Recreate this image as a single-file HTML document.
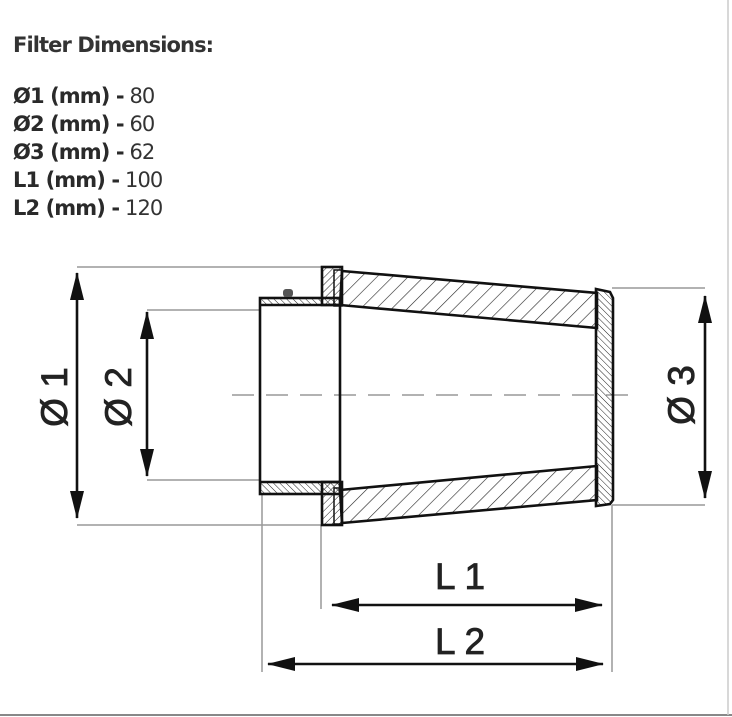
<!DOCTYPE html>
<html><head><style>
body{margin:0;background:#fff;width:732px;height:717px;overflow:hidden;position:relative;font-family:"DejaVu Sans","Liberation Sans",sans-serif;color:#333}
.t{position:absolute;left:13px;font-size:21px;line-height:28px;letter-spacing:-0.9px}
b{color:#2a2a2a}
</style></head><body>
<div class="t" style="top:31px;font-weight:bold">Filter Dimensions:</div>
<div class="t" style="top:82px"><b>Ø1 (mm) -</b> 80<br><b>Ø2 (mm) -</b> 60<br><b>Ø3 (mm) -</b> 62<br><b>L1 (mm) -</b> 100<br><b>L2 (mm) -</b> 120</div>
<svg width="732" height="717" style="position:absolute;left:0;top:0">
<defs>
<pattern id="h" width="11" height="11" patternUnits="userSpaceOnUse" patternTransform="rotate(45)"><line x1="0" y1="0" x2="0" y2="11" stroke="#222" stroke-width="1.2"/></pattern>
<pattern id="h2" width="4.5" height="4.5" patternUnits="userSpaceOnUse" patternTransform="rotate(-45)"><line x1="0" y1="0" x2="0" y2="4.5" stroke="#222" stroke-width="1"/></pattern>
<pattern id="h3" width="5" height="5" patternUnits="userSpaceOnUse" patternTransform="rotate(45)"><line x1="0" y1="0" x2="0" y2="5" stroke="#222" stroke-width="1"/></pattern>
<marker id="a" markerWidth="28" markerHeight="14" refX="27" refY="7" orient="auto-start-reverse" markerUnits="userSpaceOnUse" viewBox="0 0 28 14"><path d="M0,0 L28,7 L0,14z" fill="#111"/></marker>
</defs>
<g stroke="#999" stroke-width="1.5">
<line x1="77" y1="267" x2="322" y2="267"/><line x1="77" y1="525" x2="322" y2="525"/>
<line x1="147" y1="310" x2="260" y2="310"/><line x1="147" y1="480" x2="260" y2="480"/>
<line x1="612" y1="288" x2="705" y2="288"/><line x1="612" y1="505" x2="705" y2="505"/>
<line x1="262" y1="494" x2="262" y2="672"/><line x1="321" y1="525" x2="321" y2="609"/><line x1="612" y1="505" x2="612" y2="672"/>
<line x1="232" y1="395" x2="640" y2="395" stroke-dasharray="22,12"/>
<line x1="0" y1="715" x2="732" y2="715" stroke="#888" stroke-width="2"/>
<line x1="728" y1="0" x2="728" y2="715" stroke="#ccc"/>
</g>
<g stroke="#111" stroke-width="2.6" fill="none">
<line x1="77" y1="273" x2="77" y2="518" marker-start="url(#a)" marker-end="url(#a)"/>
<line x1="147" y1="312" x2="147" y2="476" marker-start="url(#a)" marker-end="url(#a)"/>
<line x1="705" y1="296" x2="705" y2="498" marker-start="url(#a)" marker-end="url(#a)"/>
<line x1="332" y1="605" x2="602" y2="605" marker-start="url(#a)" marker-end="url(#a)"/>
<line x1="268" y1="664" x2="603" y2="664" marker-start="url(#a)" marker-end="url(#a)"/>
<rect x="260" y="298" width="80" height="196"/>
<rect x="261" y="299" width="78" height="6" fill="url(#h2)" stroke="none"/>
<rect x="261" y="482" width="78" height="11" fill="url(#h2)" stroke="none"/>
<line x1="260" y1="305" x2="340" y2="305"/><line x1="260" y1="482" x2="340" y2="482"/>
<rect x="322" y="267" width="20" height="38" fill="url(#h3)"/>
<rect x="322" y="482" width="20" height="43" fill="url(#h3)"/>
<polygon points="342,271 597,293 597,328 340,305" fill="url(#h)"/>
<polygon points="340,490 597,466 597,500 342,523" fill="url(#h)"/>
<polygon points="596,289 610,292 613,298 613,500 610,504 596,506" fill="url(#h2)"/>
<rect x="334" y="270" width="8" height="36" stroke-width="1.5"/>
<rect x="334" y="488" width="8" height="36" stroke-width="1.5"/>
</g>
<rect x="283" y="289" width="10" height="8" rx="3" fill="#555"/>
<g font-family="Liberation Sans, sans-serif" font-size="37" fill="#222" stroke="#222" stroke-width="0.8" text-anchor="middle">
<text transform="translate(67,397) rotate(-90)">Ø 1</text>
<text transform="translate(131,397) rotate(-90)">Ø 2</text>
<text transform="translate(694,395) rotate(-90)">Ø 3</text>
<text x="460" y="589">L 1</text>
<text x="460" y="654">L 2</text>
</g>
</svg>
</body></html>
